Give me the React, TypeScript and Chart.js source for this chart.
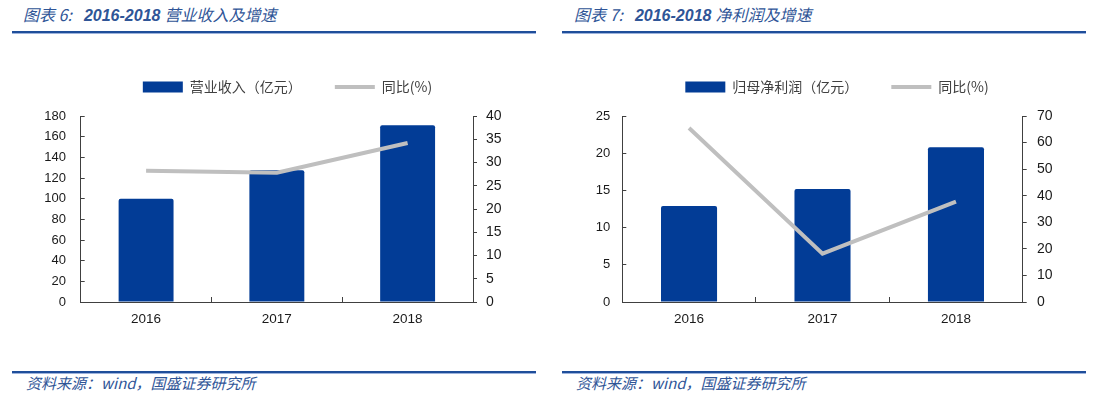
import React, { useEffect, useRef } from 'react';
import { Chart, registerables } from 'chart.js';

Chart.register(...registerables);

// ---- data ----
const categories = ['2016', '2017', '2018'];
const revenue = [100, 127.6, 171];
const revenueGrowth = [28.2, 27.8, 34.2];
const profit = [12.9, 15.2, 20.8];
const profitGrowth = [65.5, 18.2, 37.8];

// axis ranges [min, max, step]
const revenueAxis = [0, 180, 20];
const revenueGrowthAxis = [0, 40, 5];
const profitAxis = [0, 25, 5];
const profitGrowthAxis = [0, 70, 10];

const leftTitleLabel = '图表 6:';
const rightTitleLabel = '图表 7:';
const titleYears = '2016-2018';
const leftTitleText = '营业收入及增速';
const rightTitleText = '净利润及增速';
const revenueLabel = '营业收入（亿元）';
const profitLabel = '归母净利润（亿元）';
const growthLabel = '同比(%)';
const sourceText = '资料来源：wind，国盛证券研究所';

const BLUE = '#023C96';
const GRAY = '#BFBFBF';
const AXIS = '#404040';
const TEXT = '#1a1a1a';
const TITLE_BLUE = '#2F5597';
const FONT = "'Liberation Sans', 'Noto Sans CJK SC', sans-serif";
const CJK = "'Noto Sans CJK SC', 'Liberation Sans', sans-serif";

type Cfg = {
  left: number;
  width: number;
  padLeft: number;
  yWidth: number;
  y1Width: number;
  yPad: number;
  y1Pad: number;
  barLabel: string;
  bars: number[];
  line: number[];
  yAxis: number[];
  y1Axis: number[];
};

const CANVAS_TOP = 40;
const CANVAS_H = 302;

function BarLineChart({ cfg }: { cfg: Cfg }) {
  const ref = useRef<HTMLCanvasElement>(null);
  useEffect(() => {
    const legendGap = {
      id: 'legendGap',
      beforeInit(chart: any) {
        const orig = chart.legend.fit;
        chart.legend.fit = function () {
          orig.call(this);
          this.height += 12;
        };
      },
    };
    const chart = new Chart(ref.current as HTMLCanvasElement, {
      type: 'bar',
      data: {
        labels: categories,
        datasets: [
          {
            type: 'bar',
            label: cfg.barLabel,
            data: cfg.bars,
            backgroundColor: BLUE,
            yAxisID: 'y',
            order: 1,
            categoryPercentage: 1,
            barPercentage: 0.42,
            borderRadius: 2,
          } as any,
          {
            type: 'line',
            label: growthLabel,
            data: cfg.line,
            borderColor: GRAY,
            backgroundColor: GRAY,
            borderWidth: 4,
            pointRadius: 0,
            yAxisID: 'y1',
            order: 0,
            tension: 0,
          } as any,
        ],
      },
      options: {
        responsive: false,
        animation: false,
        layout: { padding: { top: 7, left: cfg.padLeft, right: 0, bottom: 0 } },
        plugins: {
          tooltip: { enabled: false },
          legend: {
            position: 'top',
            align: 'center',
            labels: {
              usePointStyle: true,
              pointStyleWidth: 40,
              boxWidth: 40,
              boxHeight: 11,
              padding: 33,
              color: '#404040',
              font: { size: 14, family: CJK },
              generateLabels: (chart: any) =>
                chart.data.datasets.map((ds: any, i: number) => ({
                  text: ds.label,
                  datasetIndex: i,
                  fillStyle: i === 0 ? BLUE : 'rgba(0,0,0,0)',
                  strokeStyle: i === 0 ? BLUE : GRAY,
                  lineWidth: i === 0 ? 0 : 4,
                  pointStyle: i === 0 ? 'rect' : 'line',
                  hidden: false,
                  fontColor: '#404040',
                })),
            },
          } as any,
        },
        scales: {
          x: {
            grid: { drawOnChartArea: false, drawTicks: true, tickLength: -5, color: AXIS },
            border: { display: true, color: AXIS, width: 1 },
            ticks: { color: TEXT, font: { size: 13.5, family: FONT }, padding: 14 },
            afterFit: (s: any) => {
              s.height = 40;
            },
          },
          y: {
            position: 'left',
            min: cfg.yAxis[0],
            max: cfg.yAxis[1],
            grid: { drawOnChartArea: false, drawTicks: true, tickLength: -4, color: AXIS },
            border: { display: true, color: AXIS, width: 1 },
            ticks: { stepSize: cfg.yAxis[2], color: TEXT, font: { size: 13, family: FONT }, padding: cfg.yPad },
            afterFit: (s: any) => {
              s.width = cfg.yWidth;
            },
          },
          y1: {
            position: 'right',
            min: cfg.y1Axis[0],
            max: cfg.y1Axis[1],
            grid: { drawOnChartArea: false, drawTicks: true, tickLength: 4, color: AXIS },
            border: { display: true, color: AXIS, width: 1 },
            ticks: { stepSize: cfg.y1Axis[2], color: TEXT, font: { size: 14, family: FONT }, padding: cfg.y1Pad },
            afterFit: (s: any) => {
              s.width = cfg.y1Width;
            },
          },
        } as any,
      },
      plugins: [legendGap],
    });
    return () => chart.destroy();
  }, [cfg]);
  return (
    <canvas
      ref={ref}
      width={cfg.width}
      height={CANVAS_H}
      style={{ position: 'absolute', left: cfg.left, top: CANVAS_TOP, width: cfg.width, height: CANVAS_H }}
    />
  );
}

function Rule({ left, width, top }: { left: number; width: number; top: number }) {
  return (
    <>
      <div style={{ position: 'absolute', left, top, width, height: 2, background: '#1F4E9A' }} />
      <div style={{ position: 'absolute', left, top: top + 2, width, height: 1, background: '#9DB3DD' }} />
    </>
  );
}

function Title({ left, label, text }: { left: number; label: string; text: string }) {
  return (
    <div
      style={{
        position: 'absolute',
        left,
        top: 3,
        fontSize: 16,
        lineHeight: '22px',
        fontStyle: 'italic',
        color: TITLE_BLUE,
        fontFamily: CJK,
        whiteSpace: 'nowrap',
      }}
    >
      <span>{label}</span>
      <span style={{ fontFamily: FONT, fontWeight: 'bold', marginLeft: 12 }}>{titleYears}</span>
      <span style={{ marginLeft: 4 }}>{text}</span>
    </div>
  );
}

function Source({ left }: { left: number }) {
  return (
    <div
      style={{
        position: 'absolute',
        left,
        top: 373,
        fontSize: 15,
        lineHeight: '20px',
        fontStyle: 'italic',
        color: TITLE_BLUE,
        fontFamily: CJK,
        whiteSpace: 'nowrap',
      }}
    >
      {sourceText}
    </div>
  );
}

const leftCfg: Cfg = {
  left: 12,
  width: 524,
  padLeft: 27,
  yWidth: 41.7,
  y1Width: 63,
  yPad: 18.7,
  y1Pad: 9,
  barLabel: revenueLabel,
  bars: revenue,
  line: revenueGrowth,
  yAxis: revenueAxis,
  y1Axis: revenueGrowthAxis,
};

const rightCfg: Cfg = {
  left: 562,
  width: 524,
  padLeft: 26,
  yWidth: 34.3,
  y1Width: 63.3,
  yPad: 16,
  y1Pad: 10.3,
  barLabel: profitLabel,
  bars: profit,
  line: profitGrowth,
  yAxis: profitAxis,
  y1Axis: profitGrowthAxis,
};

export default function App() {
  return (
    <div
      style={{
        position: 'fixed',
        left: 0,
        top: 0,
        width: 1103,
        height: 398,
        background: '#fff',
        overflow: 'hidden',
      }}
    >
      <Title left={23} label={leftTitleLabel} text={leftTitleText} />
      <Title left={574} label={rightTitleLabel} text={rightTitleText} />
      <Rule left={12} width={524} top={31} />
      <Rule left={562} width={524} top={31} />
      <BarLineChart cfg={leftCfg} />
      <BarLineChart cfg={rightCfg} />
      <Rule left={12} width={524} top={371} />
      <Rule left={562} width={524} top={371} />
      <Source left={26} />
      <Source left={576} />
    </div>
  );
}
